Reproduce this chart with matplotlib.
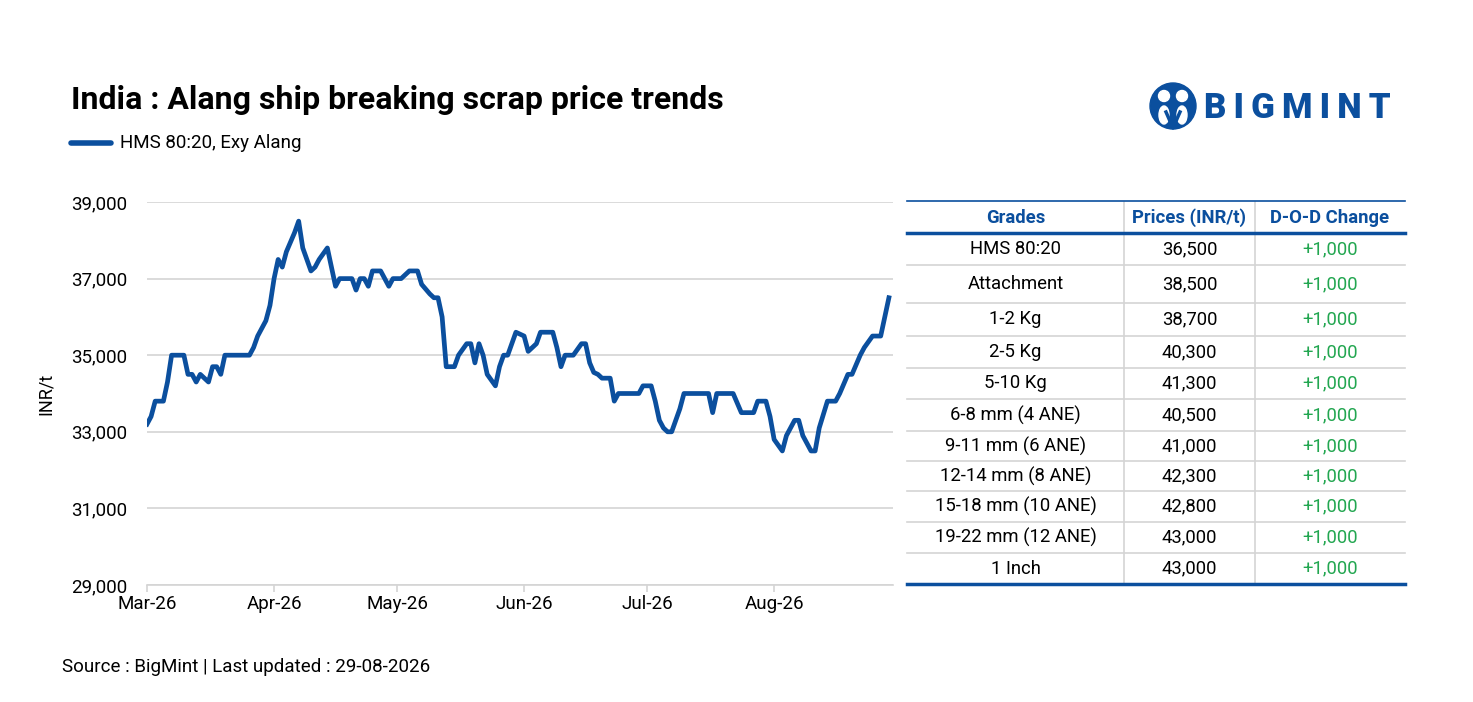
import numpy as np
import pandas as pd
import matplotlib.pyplot as plt
import matplotlib.dates as mdates
from matplotlib.patches import Circle, Ellipse

plt.rcParams['font.family'] = ['Roboto', 'DejaVu Sans']

# price series (INR/t), vertices
dates = ["2026-03-01", "2026-03-02", "2026-03-03", "2026-03-05", "2026-03-06", "2026-03-07",
         "2026-03-10", "2026-03-11", "2026-03-12", "2026-03-13", "2026-03-14", "2026-03-16",
         "2026-03-17", "2026-03-18", "2026-03-19", "2026-03-20", "2026-03-26", "2026-03-27",
         "2026-03-28", "2026-03-30", "2026-03-31", "2026-04-01", "2026-04-02", "2026-04-03",
         "2026-04-04", "2026-04-06", "2026-04-07", "2026-04-08", "2026-04-10", "2026-04-11",
         "2026-04-12", "2026-04-14", "2026-04-16", "2026-04-17", "2026-04-20", "2026-04-21",
         "2026-04-22", "2026-04-23", "2026-04-24", "2026-04-25", "2026-04-27", "2026-04-29",
         "2026-04-30", "2026-05-02", "2026-05-04", "2026-05-06", "2026-05-07", "2026-05-09",
         "2026-05-10", "2026-05-11", "2026-05-12", "2026-05-13", "2026-05-14", "2026-05-15",
         "2026-05-16", "2026-05-18", "2026-05-19", "2026-05-20", "2026-05-21", "2026-05-22",
         "2026-05-23", "2026-05-25", "2026-05-26", "2026-05-27", "2026-05-28", "2026-05-30",
         "2026-06-01", "2026-06-02", "2026-06-04", "2026-06-05", "2026-06-08", "2026-06-09",
         "2026-06-10", "2026-06-11", "2026-06-13", "2026-06-15", "2026-06-16", "2026-06-17",
         "2026-06-18", "2026-06-19", "2026-06-20", "2026-06-22", "2026-06-23", "2026-06-24",
         "2026-06-29", "2026-06-30", "2026-07-02", "2026-07-03", "2026-07-04", "2026-07-05",
         "2026-07-06", "2026-07-07", "2026-07-09", "2026-07-10", "2026-07-16", "2026-07-17",
         "2026-07-18", "2026-07-22", "2026-07-24", "2026-07-27", "2026-07-28", "2026-07-30",
         "2026-07-31", "2026-08-01", "2026-08-03", "2026-08-04", "2026-08-06", "2026-08-07",
         "2026-08-08", "2026-08-10", "2026-08-11", "2026-08-12", "2026-08-14", "2026-08-16",
         "2026-08-17", "2026-08-19", "2026-08-20", "2026-08-22", "2026-08-23", "2026-08-25",
         "2026-08-27", "2026-08-29"]
prices = [33200, 33400, 33800, 33800, 34300, 35000,
          35000, 34500, 34500, 34300, 34500, 34300,
          34700, 34700, 34500, 35000, 35000, 35200,
          35500, 35900, 36300, 37000, 37500, 37300,
          37700, 38200, 38500, 37800, 37200, 37300,
          37500, 37800, 36800, 37000, 37000, 36700,
          37000, 37000, 36800, 37200, 37200, 36800,
          37000, 37000, 37200, 37200, 36850, 36600,
          36500, 36500, 36000, 34700, 34700, 34700,
          35000, 35300, 35300, 34800, 35300, 35000,
          34500, 34200, 34700, 35000, 35000, 35600,
          35500, 35100, 35300, 35600, 35600, 35200,
          34700, 35000, 35000, 35300, 35300, 34800,
          34550, 34500, 34400, 34400, 33800, 34000,
          34000, 34200, 34200, 33800, 33300, 33100,
          33000, 33000, 33600, 34000, 34000, 33500,
          34000, 34000, 33500, 33500, 33800, 33800,
          33400, 32800, 32500, 32900, 33300, 33300,
          32900, 32500, 32500, 33100, 33800, 33800,
          34000, 34500, 34500, 35000, 35200, 35500,
          35500, 36500]

grades = ["HMS 80:20", "Attachment", "1-2 Kg", "2-5 Kg", "5-10 Kg", "6-8 mm (4 ANE)",
          "9-11 mm (6 ANE)", "12-14 mm (8 ANE)", "15-18 mm (10 ANE)", "19-22 mm (12 ANE)", "1 Inch"]
grade_prices = ["36,500", "38,500", "38,700", "40,300", "41,300", "40,500",
                "41,000", "42,300", "42,800", "43,000", "43,000"]
dod_change = ["+1,000"] * 11
headers = ["Grades", "Prices (INR/t)", "D-O-D Change"]

blue = '#0b4f9e'
green = '#22a650'
grid = '#d4d4d4'

W, H = 1473, 702
fig = plt.figure(figsize=(W / 100, H / 100), dpi=100)

# line chart
ax = fig.add_axes([147 / W, 1 - 585 / H, 746 / W, 383 / H])
x = pd.to_datetime(dates)
ax.plot(x, prices, color=blue, lw=3.4, solid_joinstyle='round')
ax.set_xlim(pd.Timestamp("2026-03-01"), pd.Timestamp("2026-08-30"))
ax.set_ylim(29000, 39000)
ax.set_yticks(np.arange(29000, 39001, 2000))
ax.yaxis.set_major_formatter(plt.FuncFormatter(lambda v, p: f"{int(v):,}"))
ax.xaxis.set_major_locator(mdates.MonthLocator())
ax.xaxis.set_major_formatter(mdates.DateFormatter('%b-%y'))
ax.grid(axis='y', color=grid, lw=1.2)
ax.set_axisbelow(True)
for s in ['top', 'right', 'left']:
    ax.spines[s].set_visible(False)
ax.spines['bottom'].set_color(grid)
ax.spines['bottom'].set_linewidth(1.2)
ax.tick_params(axis='y', length=0, labelsize=13.5, pad=14)
ax.tick_params(axis='x', length=5, color=grid, width=1.2, labelsize=13.5, pad=2)
ax.set_ylabel('INR/t', fontsize=13, labelpad=12)

# overlay in pixel coordinates for titles, legend, logo and table
ov = fig.add_axes([0, 0, 1, 1], facecolor='none')
ov.set_xlim(0, W)
ov.set_ylim(H, 0)
ov.axis('off')

ov.text(71, 100, "India : Alang ship breaking scrap price trends", fontsize=23,
        fontweight='bold', va='center', ha='left')
ov.plot([71, 111], [143, 143], color=blue, lw=4, solid_capstyle='round')
ov.text(120, 143, "HMS 80:20, Exy Alang", fontsize=13.5, va='center', ha='left')
ov.text(62, 667, "Source : BigMint | Last updated : 29-08-2026", fontsize=13.5,
        va='center', ha='left')

# logo
ov.add_patch(Circle((1173, 106), 23, color=blue))
for cx in (1164, 1182):
    ov.add_patch(Circle((cx, 96), 5.5, color='white'))
    ov.add_patch(Ellipse((cx, 115), 10, 18, color='white'))
ov.plot([1166, 1173, 1180], [112, 128, 112], color=blue, lw=2.5)
ov.text(1204, 109, "B\u2009I\u2009G\u2009M\u2009I\u2009N\u2009T", fontsize=25, fontweight='black',
        color=blue, va='center', ha='left')

# table
tl, tr = 907, 1405
c1, c2 = 1124, 1255
top = 201
row_edges = [233, 265, 303, 336, 368, 399, 431, 461, 491, 522, 553, 584]
ov.plot([tl, tr], [top, top], color=blue, lw=1.2)
ov.plot([tl, tr], [row_edges[0], row_edges[0]], color=blue, lw=2.5)
ov.plot([tl, tr], [row_edges[-1], row_edges[-1]], color=blue, lw=2.5)
for yy in row_edges[1:-1]:
    ov.plot([tl, tr], [yy, yy], color=grid, lw=1.2, zorder=1)
for cx in (c1, c2):
    ov.plot([cx, cx], [top + 1, row_edges[-1] - 1.5], color=grid, lw=1.2, zorder=1)
centers = [(tl + c1) / 2, (c1 + c2) / 2, (c2 + tr) / 2]
for cx, h in zip(centers, headers):
    ov.text(cx, (top + row_edges[0]) / 2 + 1, h, fontsize=13.3, fontweight='bold', color=blue,
            ha='center', va='center')
for i in range(len(grades)):
    yy = (row_edges[i] + row_edges[i + 1]) / 2
    ov.text(centers[0], yy, grades[i], fontsize=13.3, ha='center', va='center')
    ov.text(centers[1], yy, grade_prices[i], fontsize=13.3, ha='center', va='center')
    ov.text(centers[2], yy, dod_change[i], fontsize=13.3, ha='center', va='center', color=green)

fig.savefig('out.png', dpi=100, facecolor='white')
